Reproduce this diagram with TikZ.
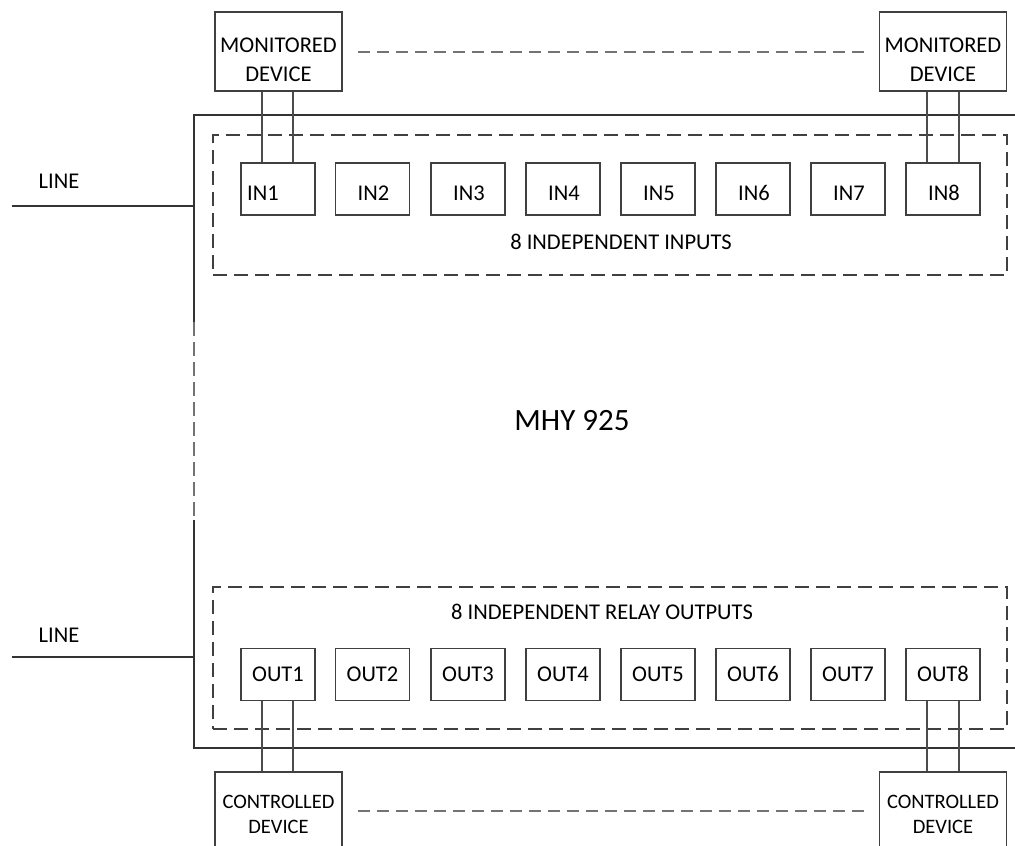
\documentclass[tikz,border=0pt]{standalone}
\usepackage{fontspec}
\setmainfont{Carlito}
\begin{document}
\begin{tikzpicture}[x=1pt,y=-1pt,
  every node/.style={font=\fontsize{22.5}{27}\selectfont, text=black},
  boxline/.style={draw=black!75, line width=1.3pt},
  devbox/.style={boxline, minimum width=127pt, minimum height=79pt, inner sep=0pt},
  devtext/.style={align=center, inner sep=0pt},
  iobox/.style={boxline, minimum width=74pt, minimum height=52pt, inner sep=0pt, text height=14.5pt, text depth=0pt},
  iotext/.style={inner sep=0pt, text height=14.5pt, text depth=0pt},
  groupbox/.style={draw=black!75, line width=1.3pt, dash pattern=on 14pt off 7pt, minimum width=794pt, inner sep=0pt},
  wire/.style={draw=black!70, line width=1.5pt},
  link/.style={draw=black!55, line width=2.6pt, dash pattern=on 12pt off 7pt},
  mainline/.style={draw=black!80, line width=1.3pt}]
\useasboundingbox (0,0) rectangle (1015,846);
\clip (0,0) rectangle (1015,846);

% main unit outline (open to the right)
\coordinate (mtr) at (1016,115);
\coordinate (mtl) at (194,115);
\coordinate (ml1) at (194,322);
\coordinate (ml2) at (194,520);
\coordinate (mbl) at (194,748);
\coordinate (mbr) at (1016,748);
\draw[mainline] (mtr) -- (mtl) -- (ml1);
\draw[mainline, draw=black!55, line width=1.6pt, dash pattern=on 14pt off 6pt] (ml1) -- (ml2);
\draw[mainline] (ml2) -- (mbl) -- (mbr);

\node[font=\fontsize{31}{36}\selectfont] (mhy) at (572,421) {MHY 925};

% group boxes
\node[groupbox, minimum height=140pt] (ingrp) at (610,205) {};
\node[groupbox, minimum height=142pt] (outgrp) at (610,658) {};
\node (inlbl) at (621,242) {8 INDEPENDENT INPUTS};
\node (outlbl) at (602,612) {8 INDEPENDENT RELAY OUTPUTS};

% inputs and outputs
\foreach \i/\x in {1/278,2/372.5,3/468,4/563,5/658,6/753,7/848,8/943}{
  \node[iobox] (in\i) at (\x,189) {};
  \node[iobox] (out\i) at (\x,674.5) {OUT\i};
}
\node[iotext, anchor=west] (in1t) at (247,193) {IN1};
\foreach \i in {2,...,8}{
  \node[iotext] (in\i t) at ([xshift=1pt,yshift=-4pt]in\i.center) {IN\i};
}

% LINE feeds
\coordinate (l1) at (12,206);
\coordinate (l2) at (12,657);
\draw[mainline] (l1) -- (l1 -| mtl);
\draw[mainline] (l2) -- (l2 -| mtl);
\node (line1) at (59,181) {LINE};
\node (line2) at (59,635) {LINE};

% monitored devices
\node[devbox] (md1) at (278.5,51.5) {};
\node[devbox] (md8) at (943,51.5) {};
\node[devtext] (md1t) at (278.5,60) {MONITORED\\[2pt]DEVICE};
\node[devtext] (md8t) at (943,60) {MONITORED\\[2pt]DEVICE};
\draw[link] (md1.east |- 0,52) ++(15,0) coordinate (a1) -- ([xshift=-15pt]md8.west |- a1);

% controlled devices
\node[devbox, minimum height=100pt] (cd1) at (278.5,822) {};
\node[devbox, minimum height=100pt] (cd8) at (943,822) {};
\node[devtext, font=\fontsize{20.5}{24.5}\selectfont] (cd1t) at (278.5,814) {CONTROLLED\\[0.5pt]DEVICE};
\node[devtext, font=\fontsize{20.5}{24.5}\selectfont] (cd8t) at (943,814) {CONTROLLED\\[0.5pt]DEVICE};
\draw[link] (cd1.east |- 0,811) ++(15,0) coordinate (a2) -- ([xshift=-15pt]cd8.west |- a2);

% wires
\draw[wire] ([xshift=-16.5pt]md1.south) -- ([xshift=-16pt]in1.north);
\draw[wire] ([xshift=14.5pt]md1.south) -- ([xshift=15pt]in1.north);
\draw[wire] ([xshift=-16pt]md8.south) -- ([xshift=-16pt]in8.north);
\draw[wire] ([xshift=16pt]md8.south) -- ([xshift=16pt]in8.north);
\draw[wire] ([xshift=-16pt]out1.south) -- ([xshift=-16.5pt]cd1.north);
\draw[wire] ([xshift=15pt]out1.south) -- ([xshift=14.5pt]cd1.north);
\draw[wire] ([xshift=-16pt]out8.south) -- ([xshift=-16pt]cd8.north);
\draw[wire] ([xshift=16pt]out8.south) -- ([xshift=16pt]cd8.north);
\end{tikzpicture}
\end{document}
